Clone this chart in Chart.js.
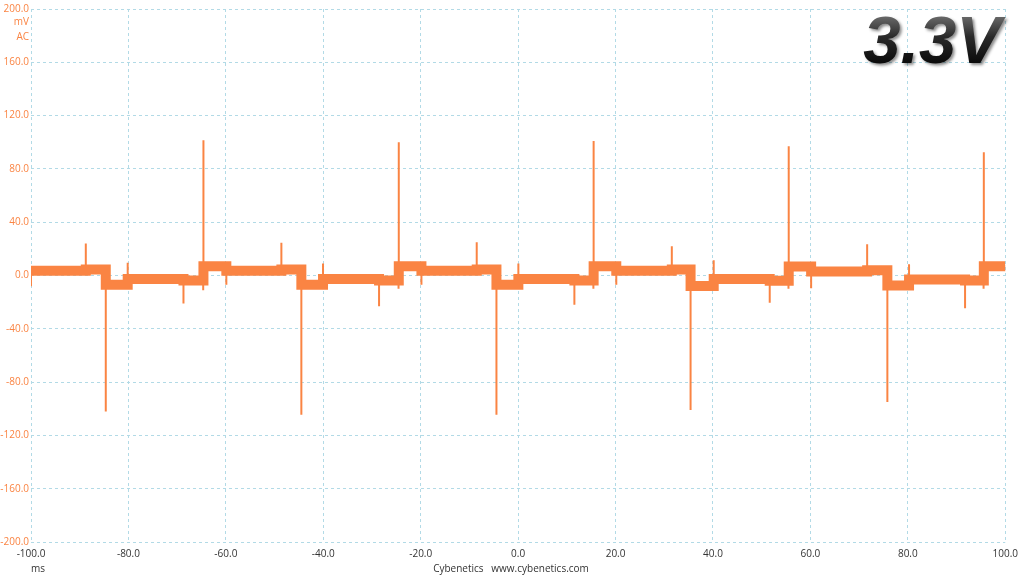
<!DOCTYPE html>
<html>
<head>
<meta charset="utf-8">
<title>3.3V ripple</title>
<script src="https://cdn.jsdelivr.net/npm/chart.js@4.4.1/dist/chart.umd.min.js"></script>
<style>
    html, body { margin: 0; padding: 0; background: #fff; }
    #wrap { width: 1024px; height: 576px; position: relative; }
</style>
</head>
<body>
<div id="wrap"><canvas id="rippleChart"></canvas></div>
<script>
// Tick positions (ms / mV)
const xTickValues = [-100, -80, -60, -40, -20, 0, 20, 40, 60, 80, 100];
const yTickValues = [-200, -160, -120, -80, -40, 0, 40, 80, 120, 160, 200];

// Flat levels of the trace: time where a level starts (ms) and its value (mV)
const levelTimes = [-100, -88.75, -84.65, -80.15, -68.7, -64.6, -59.9, -48.6,
    -44.5, -40.05, -28.55, -24.5, -19.85, -8.5, -4.45, 0.05, 11.55, 15.5, 20.15,
    31.55, 35.4, 40.15, 51.65, 55.55, 60.15, 71.65, 75.8, 80.25, 91.75, 95.6, 100];
const levelValues = [3.5, 4.5, -7, -2.7, -3.8, 7, 3.5, 4.5,
    -7, -2.7, -3.8, 7, 3.5, 4.5, -7, -2.7, -3.8, 7, 3.5,
    4.5, -7.8, -2.7, -4, 6.8, 3, 4, -7.5, -3, -3.8, 7, 8];

// Switching spikes: time (ms) and peak (mV)
const spikeTimes = [-100, -88.75, -84.65, -80.15, -68.7, -64.65, -64.6, -59.9, -48.6,
    -44.5, -40.05, -28.55, -24.55, -24.5, -19.85, -8.5, -4.45, 0.05, 11.55, 15.45, 15.5,
    20.15, 31.55, 35.4, 40.15, 51.65, 55.5, 55.55, 60.15, 71.65, 75.8, 80.25, 91.75,
    95.55, 95.6];
const spikeValues = [-8, 24, -102, 9.5, -21, -11, 101.5, -7, 24.5,
    -104.5, 9, -23, -10, 100, -7, 25, -104.5, 9, -22, -10, 101,
    -7, 22, -101, 11.5, -20.5, -10, 97, -9.5, 23.5, -95, 8.5, -24.5,
    -10, 92.5];

const traceColor = '#fa8443';
const gridColor = '#b2dae6';

document.addEventListener('DOMContentLoaded', function() {
    createRippleChart();
});

function levelAt(t) {
    let v = levelValues[0];
    for (let i = 0; i < levelTimes.length; i++) {
        if (levelTimes[i] < t) v = levelValues[i];
    }
    return v;
}

const labelsPlugin = {
    id: 'labels',
    afterDraw(chart) {
        const ctx = chart.ctx;
        ctx.save();
        ctx.font = '10px "Open Sans"';
        ctx.textBaseline = 'middle';
        ctx.fillStyle = traceColor;
        ctx.textAlign = 'right';
        ctx.fillText('mV', 29, 22);
        ctx.fillText('AC', 29, 37);
        ctx.fillStyle = '#333';
        ctx.textAlign = 'center';
        ctx.fillText('ms', 38, 569);
        ctx.fillText('Cybenetics   www.cybenetics.com', 511, 569);

        // title
        ctx.font = 'italic bold 67px "Liberation Sans"';
        ctx.textAlign = 'right';
        ctx.textBaseline = 'alphabetic';
        const grad = ctx.createLinearGradient(0, 16, 0, 62);
        grad.addColorStop(0, '#6a6a6a');
        grad.addColorStop(0.45, '#2a2a2a');
        grad.addColorStop(1, '#0c0c0c');
        ctx.shadowColor = 'rgba(0,0,0,0.45)';
        ctx.shadowOffsetX = 2;
        ctx.shadowOffsetY = 2;
        ctx.shadowBlur = 3;
        ctx.fillStyle = grad;
        ctx.fillText('3.3V', 1001, 63);
        ctx.restore();
    }
};

function createRippleChart() {
    const ctx = document.getElementById('rippleChart').getContext('2d');

    const bandData = levelTimes.map((t, i) => ({ x: t, y: levelValues[i] }));
    const spikeData = [];
    spikeTimes.forEach((t, i) => {
        spikeData.push({ x: t, y: levelAt(t) });
        spikeData.push({ x: t, y: spikeValues[i] });
        spikeData.push({ x: t, y: null });
    });

    new Chart(ctx, {
        type: 'line',
        data: {
            datasets: [{
                label: 'level',
                data: bandData,
                borderColor: traceColor,
                borderWidth: 10,
                stepped: 'before',
                pointRadius: 0,
                fill: false
            }, {
                label: 'spikes',
                data: spikeData,
                borderColor: traceColor,
                borderWidth: 2,
                pointRadius: 0,
                spanGaps: false,
                fill: false
            }]
        },
        plugins: [labelsPlugin],
        options: {
            responsive: true,
            maintainAspectRatio: false,
            animation: false,
            layout: { padding: { top: 9, right: 15, left: 0, bottom: 0 } },
            plugins: {
                legend: { display: false },
                tooltip: { enabled: false }
            },
            scales: {
                x: {
                    type: 'linear',
                    min: -100,
                    max: 100,
                    afterBuildTicks: scale => { scale.ticks = xTickValues.map(v => ({ value: v })); },
                    afterFit: scale => { scale.height = 34; },
                    grid: { color: gridColor, drawTicks: false },
                    border: { display: false, dash: [3, 3] },
                    ticks: {
                        color: '#333',
                        padding: 6,
                        maxRotation: 0,
                        font: { family: 'Open Sans', size: 10 },
                        callback: v => v.toFixed(1)
                    }
                },
                y: {
                    min: -200,
                    max: 200,
                    afterBuildTicks: scale => { scale.ticks = yTickValues.map(v => ({ value: v })); },
                    afterFit: scale => { scale.width = 31; },
                    grid: { color: gridColor, drawTicks: false },
                    border: { display: false, dash: [3, 3] },
                    ticks: {
                        color: traceColor,
                        padding: 2,
                        font: { family: 'Open Sans', size: 10 },
                        callback: v => v.toFixed(1)
                    }
                }
            }
        }
    });
}
</script>
</body>
</html>
